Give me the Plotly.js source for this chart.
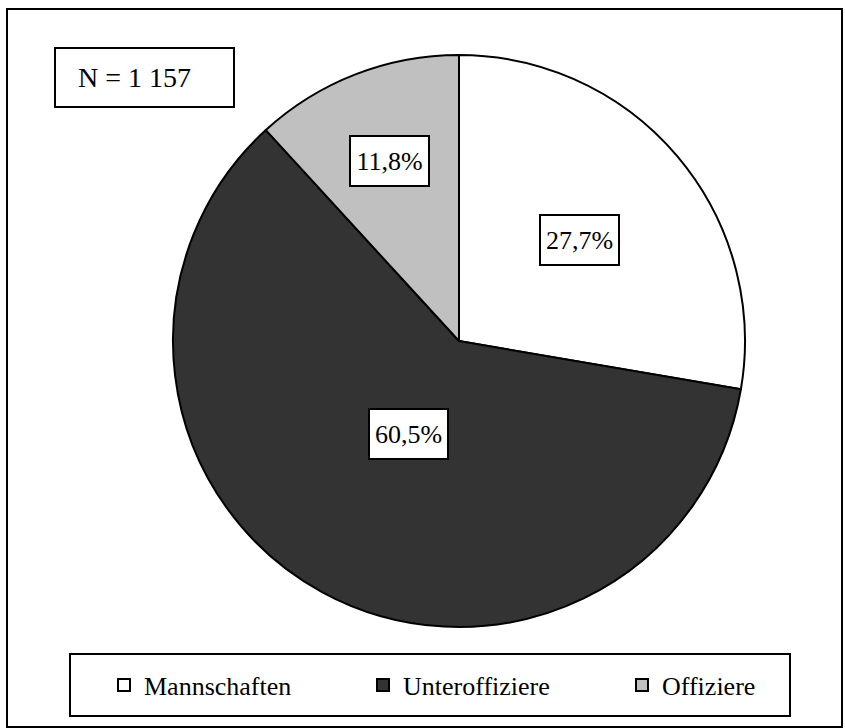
<!DOCTYPE html>
<html>
<head>
<meta charset="utf-8">
<script src="https://cdn.plot.ly/plotly-3.0.1.min.js"></script>
<style>
  body { margin: 0; background: #fff; }
  #plot { width: 845px; height: 728px; }
</style>
</head>
<body>
<div id="plot"></div>
<script>
// Dienstgradgruppen
const categories = ['Mannschaften', 'Unteroffiziere', 'Offiziere'];
const shares = [27.7, 60.5, 11.8];
const sampleSize = 1157;

const sliceColors = ['#ffffff', '#333333', '#c0c0c0'];
const labelRadius = [0.55, 0.37, 0.675];   // label distance from centre, fraction of radius

const W = 845, H = 728;
const serif = '"Liberation Serif", "Times New Roman", serif';

// pie placement in pixels
const cx = 459, cy = 341, R = 286;
const domX = [(cx - R) / W, (cx + R) / W];
const domY = [1 - (cy + R) / H, 1 - (cy - R) / H];

function fmtPct(v) {
    return v.toFixed(1).replace('.', ',') + '%';
}

function fmtN(n) {
    return String(n).replace(/\B(?=(\d{3})+(?!\d))/g, ' ');
}

// boxed percent labels at the slice mid angle
const total = shares.reduce((a, b) => a + b, 0);
let cum = 0;
const labelAnnotations = shares.map((v, i) => {
    const mid = (cum + v / 2) / total * 2 * Math.PI;
    cum += v;
    const px = cx + labelRadius[i] * R * Math.sin(mid);
    const py = cy - labelRadius[i] * R * Math.cos(mid);
    return {
        x: px / W, y: 1 - py / H, xref: 'paper', yref: 'paper',
        xanchor: 'center', yanchor: 'middle',
        text: fmtPct(v), showarrow: false,
        width: 67, height: 38,
        font: { family: serif, size: 26, color: '#000' },
        bgcolor: '#fff', bordercolor: '#000', borderwidth: 2, borderpad: 5
    };
});

const trace = {
    type: 'pie',
    labels: categories,
    values: shares,
    sort: false,
    direction: 'clockwise',
    rotation: 0,
    textinfo: 'none',
    hoverinfo: 'skip',
    marker: { colors: sliceColors, line: { color: '#000', width: 2 } },
    domain: { x: domX, y: domY }
};

const layout = {
    width: W, height: H,
    margin: { l: 0, r: 0, t: 0, b: 0 },
    paper_bgcolor: '#fff',
    showlegend: true,
    legend: {
        orientation: 'h',
        x: 0, xanchor: 'left',
        y: 1 - 685 / H, yanchor: 'middle',
        indentation: 104,
        entrywidth: 110, entrywidthmode: 'pixels',
        font: { family: serif, size: 26, color: '#000' },
        bgcolor: 'rgba(0,0,0,0)',
        traceorder: 'normal'
    },
    shapes: [
        // outer frame
        { type: 'rect', xref: 'paper', yref: 'paper', x0: 7 / W, x1: 842 / W, y0: 1 - 727 / H, y1: 1 - 9 / H,
          line: { color: '#000', width: 2 } },
        // N box
        { type: 'rect', xref: 'paper', yref: 'paper', x0: 55 / W, x1: 234 / W, y0: 1 - 107 / H, y1: 1 - 48 / H,
          line: { color: '#000', width: 2 } },
        // legend box
        { type: 'rect', xref: 'paper', yref: 'paper', x0: 70 / W, x1: 790 / W, y0: 1 - 716 / H, y1: 1 - 654 / H,
          line: { color: '#000', width: 2 } }
    ],
    annotations: labelAnnotations.concat([{
        x: 76 / W, y: 1 - 78 / H, xref: 'paper', yref: 'paper',
        xanchor: 'left', yanchor: 'middle',
        text: 'N = ' + fmtN(sampleSize), showarrow: false,
        font: { family: serif, size: 28, color: '#000' }
    }])
};

Plotly.newPlot('plot', [trace], layout, { displayModeBar: false, staticPlot: true });
</script>
</body>
</html>
